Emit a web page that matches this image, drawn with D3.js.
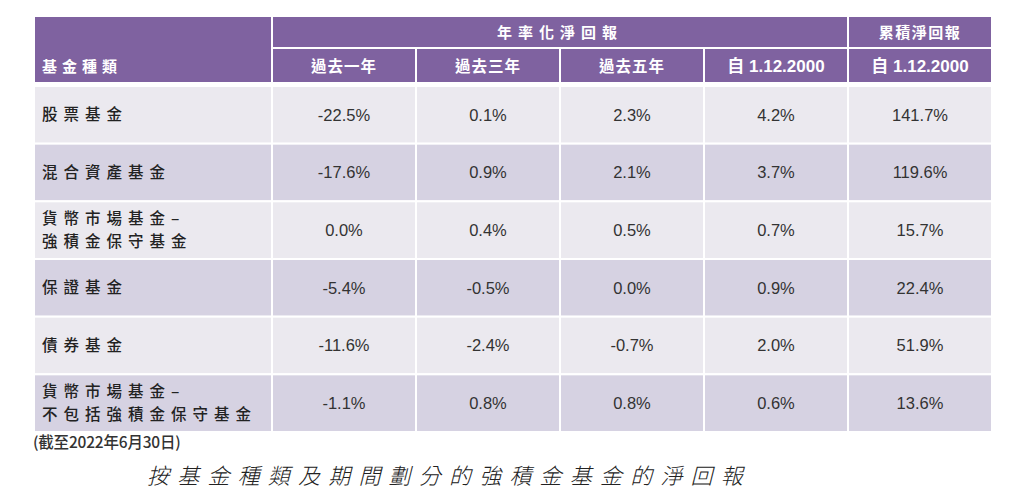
<!DOCTYPE html>
<html>
<head>
<meta charset="utf-8">
<script src="https://cdn.jsdelivr.net/npm/d3@7"></script>
<style>
  html, body { margin: 0; padding: 0; background: #fff; }
  svg { display: block; }
  .cjk { font-family: "Noto Sans CJK TC", "Noto Sans CJK SC", sans-serif; }
  .mix { font-family: "Liberation Sans", "Noto Sans CJK TC", sans-serif; }
  .num { font-family: "Liberation Sans", Arial, sans-serif; }
</style>
</head>
<body>
<div id="chart"></div>
<script>
// MPF fund net returns by fund type and period
const funds = [
  ['股票基金'],
  ['混合資產基金'],
  ['貨幣市場基金–', '強積金保守基金'],
  ['保證基金'],
  ['債券基金'],
  ['貨幣市場基金–', '不包括強積金保守基金']
];
const periods = ['過去一年', '過去三年', '過去五年', '自 1.12.2000', '自 1.12.2000'];
const groupHeaders = ['年率化淨回報', '累積淨回報'];

const oneYear   = ['-22.5%', '-17.6%', '0.0%', '-5.4%', '-11.6%', '-1.1%'];
const threeYear = ['0.1%', '0.9%', '0.4%', '-0.5%', '-2.4%', '0.8%'];
const fiveYear  = ['2.3%', '2.1%', '0.5%', '0.0%', '-0.7%', '0.8%'];
const sinceAnn  = ['4.2%', '3.7%', '0.7%', '0.9%', '2.0%', '0.6%'];
const sinceCum  = ['141.7%', '119.6%', '15.7%', '22.4%', '51.9%', '13.6%'];

const footnote = '(截至2022年6月30日)';
const title = '按基金種類及期間劃分的強積金基金的淨回報';

const columns = [oneYear, threeYear, fiveYear, sinceAnn, sinceCum];

const W = 1024, H = 499;
const left = 34, labelRight = 272, right = 992;
const headTop = 16, headMid = 48, headBottom = 83;
const bodyTop = 86, bodyBottom = 432;

const purple = '#7f62a0';
const rowFill = ['#ebe9ef', '#d6d2e2'];

const svg = d3.select('#chart').append('svg')
  .attr('width', W).attr('height', H);

const x = d3.scaleBand().domain(d3.range(periods.length)).range([labelRight, right]);
const y = d3.scaleBand().domain(d3.range(funds.length)).range([bodyTop, bodyBottom]);

// header cells
const head = svg.append('g');
head.append('rect')
  .attr('x', left).attr('y', headTop)
  .attr('width', labelRight - left).attr('height', headBottom - headTop)
  .attr('fill', purple).attr('stroke', '#fff').attr('stroke-width', 2);
// annualised group (first 4 columns)
head.append('rect')
  .attr('x', x(0)).attr('y', headTop)
  .attr('width', x(3) + x.bandwidth() - x(0)).attr('height', headMid - headTop)
  .attr('fill', purple).attr('stroke', '#fff').attr('stroke-width', 2);
head.append('rect')
  .attr('x', x(4)).attr('y', headTop)
  .attr('width', x.bandwidth()).attr('height', headMid - headTop)
  .attr('fill', purple).attr('stroke', '#fff').attr('stroke-width', 2);
head.selectAll('rect.sub').data(periods).join('rect')
  .attr('class', 'sub')
  .attr('x', (d, i) => x(i)).attr('y', headMid)
  .attr('width', x.bandwidth()).attr('height', headBottom - headMid)
  .attr('fill', purple).attr('stroke', '#fff').attr('stroke-width', 2);

head.append('text').attr('class', 'cjk')
  .attr('x', 42).attr('y', 72)
  .attr('fill', '#fff').attr('font-size', 15).attr('font-weight', 700)
  .attr('letter-spacing', 5)
  .text('基金種類');

head.selectAll('text.grp').data(groupHeaders).join('text')
  .attr('class', 'grp cjk')
  .attr('x', (d, i) => i === 0 ? (x(0) + x(3) + x.bandwidth()) / 2 : x(4) + x.bandwidth() / 2)
  .attr('y', 38)
  .attr('text-anchor', 'middle')
  .attr('fill', '#fff').attr('font-size', 15).attr('font-weight', 700)
  .attr('letter-spacing', (d, i) => i === 0 ? 6 : 1.5)
  .text(d => d);

head.selectAll('text.per').data(periods).join('text')
  .attr('class', 'per mix')
  .attr('x', (d, i) => x(i) + x.bandwidth() / 2)
  .attr('y', 72)
  .attr('text-anchor', 'middle')
  .attr('fill', '#fff').attr('font-size', (d, i) => i < 3 ? 15.5 : 17).attr('font-weight', 700)
  .attr('letter-spacing', (d, i) => i < 3 ? 1 : 0)
  .text(d => d);

// body rows
const rows = svg.append('g').selectAll('g').data(funds).join('g')
  .attr('transform', (d, i) => `translate(0,${y(i)})`);

rows.append('rect')
  .attr('x', left).attr('width', labelRight - left).attr('height', y.bandwidth())
  .attr('fill', (d, i) => rowFill[i % 2]).attr('stroke', '#fff').attr('stroke-width', 2);

rows.selectAll('rect.cell').data((d, i) => columns.map(() => i)).join('rect')
  .attr('class', 'cell')
  .attr('x', (d, j) => x(j)).attr('width', x.bandwidth()).attr('height', y.bandwidth())
  .attr('fill', d => rowFill[d % 2]).attr('stroke', '#fff').attr('stroke-width', 2);

rows.each(function (lines) {
  const g = d3.select(this);
  const mid = y.bandwidth() / 2;
  g.selectAll('text.lbl').data(lines).join('text')
    .attr('class', 'lbl cjk')
    .attr('x', 42)
    .attr('y', (d, k) => mid + 5.5 + (k - (lines.length - 1) / 2) * 23)
    .attr('fill', '#222').attr('font-size', 15.5).attr('font-weight', 500)
    .attr('letter-spacing', 6)
    .text(d => d);
});

rows.selectAll('text.val').data((d, i) => columns.map(c => c[i])).join('text')
  .attr('class', 'val num')
  .attr('x', (d, j) => x(j) + x.bandwidth() / 2)
  .attr('y', y.bandwidth() / 2 + 6)
  .attr('text-anchor', 'middle')
  .attr('fill', '#333').attr('font-size', 16.5)
  .text(d => d);

svg.append('text').attr('class', 'cjk')
  .attr('x', 33).attr('y', 448)
  .attr('fill', '#333').attr('font-size', 15.5).attr('font-weight', 500)
  .attr('letter-spacing', -0.2)
  .text(footnote);

svg.append('text').attr('class', 'cjk')
  .attr('x', 449).attr('y', 484)
  .attr('text-anchor', 'middle')
  .attr('fill', '#222').attr('font-size', 22)
  .attr('font-style', 'italic').attr('font-weight', 300)
  .attr('letter-spacing', 8.2)
  .text(title);
</script>
</body>
</html>
